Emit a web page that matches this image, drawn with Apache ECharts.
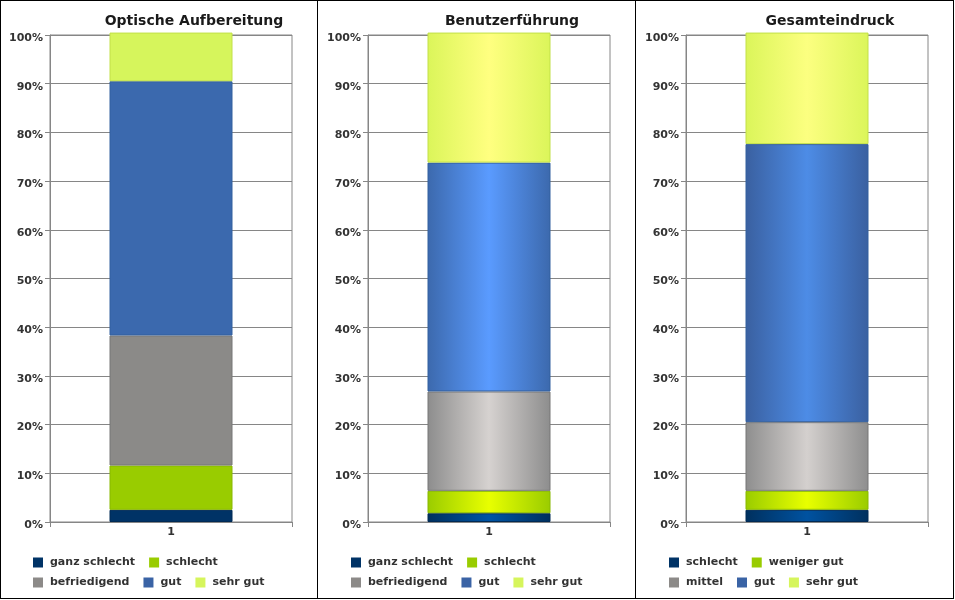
<!DOCTYPE html>
<html>
<head>
<meta charset="utf-8">
<script src="https://cdn.jsdelivr.net/npm/echarts@6/dist/echarts.min.js"></script>
<style>
  html, body { margin: 0; padding: 0; background: #fff; }
  #frame { position: absolute; left: 0; top: 0; width: 952px; height: 597px; border: 1px solid #000; }
  .sep { position: absolute; top: 0; width: 1px; height: 599px; background: #000; }
  .panel { position: absolute; top: 0; width: 317px; height: 599px; }
</style>
</head>
<body>
<div id="frame"></div>
<div class="sep" style="left:317px"></div>
<div class="sep" style="left:635px"></div>
<div class="panel" id="c1" style="left:0px"></div>
<div class="panel" id="c2" style="left:318px"></div>
<div class="panel" id="c3" style="left:636px"></div>
<script>
// ---- data ----
const categories = ['1'];
const titles = ['Optische Aufbereitung', 'Benutzerführung', 'Gesamteindruck'];
const names1 = ['ganz schlecht', 'schlecht', 'befriedigend', 'gut', 'sehr gut'];
const names2 = ['ganz schlecht', 'schlecht', 'befriedigend', 'gut', 'sehr gut'];
const names3 = ['schlecht', 'weniger gut', 'mittel', 'gut', 'sehr gut'];
const values1 = [2.5, 9.1, 26.7, 52.2, 10.0];
const values2 = [1.8, 4.6, 20.4, 47.0, 26.7];
const values3 = [2.5, 3.9, 14.1, 57.1, 22.9];

// ---- styles ----
const legendColors = ['#003366', '#99cc00', '#8c8a88', '#3a63a5', '#d6f55c'];
const flatColors = ['#003366', '#99cc00', '#8b8a88', '#3b69ae', '#d6f55c'];
const borderColors = ['#002a55', '#88b800', '#777777', '#33609f', '#c2e048'];
function grad(edge, center) {
  return { type: 'linear', x: 0, y: 0, x2: 1, y2: 0,
    colorStops: [{ offset: 0, color: edge }, { offset: 0.5, color: center }, { offset: 1, color: edge }] };
}
const grad2 = [grad('#00305e', '#0055a5'), grad('#9acc00', '#e8ff00'), grad('#8d8d8d', '#d6d2d0'), grad('#3c69ad', '#5a9bff'), grad('#dbf55a', '#ffff80')];
const grad3 = [grad('#00305e', '#0052a0'), grad('#9acc00', '#e8ff00'), grad('#8e8e8e', '#d4d0ce'), grad('#3a60a0', '#4d8ce6'), grad('#dbf55a', '#fcff80')];

const font = 'DejaVu Sans, Verdana, sans-serif';
const textCol = '#333333';
const lineCol = '#868686';

function build(el, title, names, values, fills) {
  const chart = echarts.init(document.getElementById(el), null, { renderer: 'canvas' });
  const series = names.map((n, i) => ({
    name: n, type: 'bar', stack: 's', barWidth: 123, clip: false,
    data: [values[i]],
    itemStyle: { color: fills[i], borderColor: borderColors[i], borderWidth: 1 },
    emphasis: { disabled: true }
  }));
  const legendBase = {
    icon: 'rect', itemWidth: 10, itemHeight: 10, itemGap: 14, left: 28,
    orient: 'horizontal', selectedMode: false,
    textStyle: { fontFamily: font, fontSize: 11, fontWeight: 'bold', color: textCol, padding: [0, 0, 0, 2] }
  };
  chart.setOption({
    animation: false,
    title: { text: title, left: 189, top: 9, textAlign: 'center',
      textStyle: { fontFamily: font, fontSize: 14, fontWeight: 'bold', color: '#1a1a1a' } },
    legend: [
      Object.assign({}, legendBase, { top: 552, data: names.slice(0, 2).map((n, i) => ({ name: n, itemStyle: { color: legendColors[i], borderWidth: 0 } })) }),
      Object.assign({}, legendBase, { top: 572, data: names.slice(2).map((n, i) => ({ name: n, itemStyle: { color: legendColors[i + 2], borderWidth: 0 } })) })
    ],
    grid: { left: 50, top: 35, width: 242, height: 487, show: true, borderColor: lineCol, borderWidth: 1, backgroundColor: 'transparent' },
    xAxis: {
      type: 'category', data: categories,
      axisLine: { show: true, lineStyle: { color: lineCol } },
      axisTick: { show: true, length: 5, lineStyle: { color: lineCol } },
      axisLabel: { fontFamily: font, fontSize: 11, fontWeight: 'bold', color: textCol, margin: 5 }
    },
    yAxis: {
      type: 'value', min: 0, max: 100, interval: 10,
      axisLine: { show: true, lineStyle: { color: lineCol } },
      axisTick: { show: true, length: 5, lineStyle: { color: lineCol } },
      splitLine: { show: true, lineStyle: { color: lineCol, width: 1 } },
      axisLabel: {
        formatter: function (v) { return '{a|' + v + '%}'; }, margin: 7,
        rich: { a: { fontFamily: font, fontSize: 11, fontWeight: 'bold', color: textCol, padding: [6, 0, 0, 0] } }
      }
    },
    series: series
  });
}
build('c1', titles[0], names1, values1, flatColors);
build('c2', titles[1], names2, values2, grad2);
build('c3', titles[2], names3, values3, grad3);
</script>
</body>
</html>
